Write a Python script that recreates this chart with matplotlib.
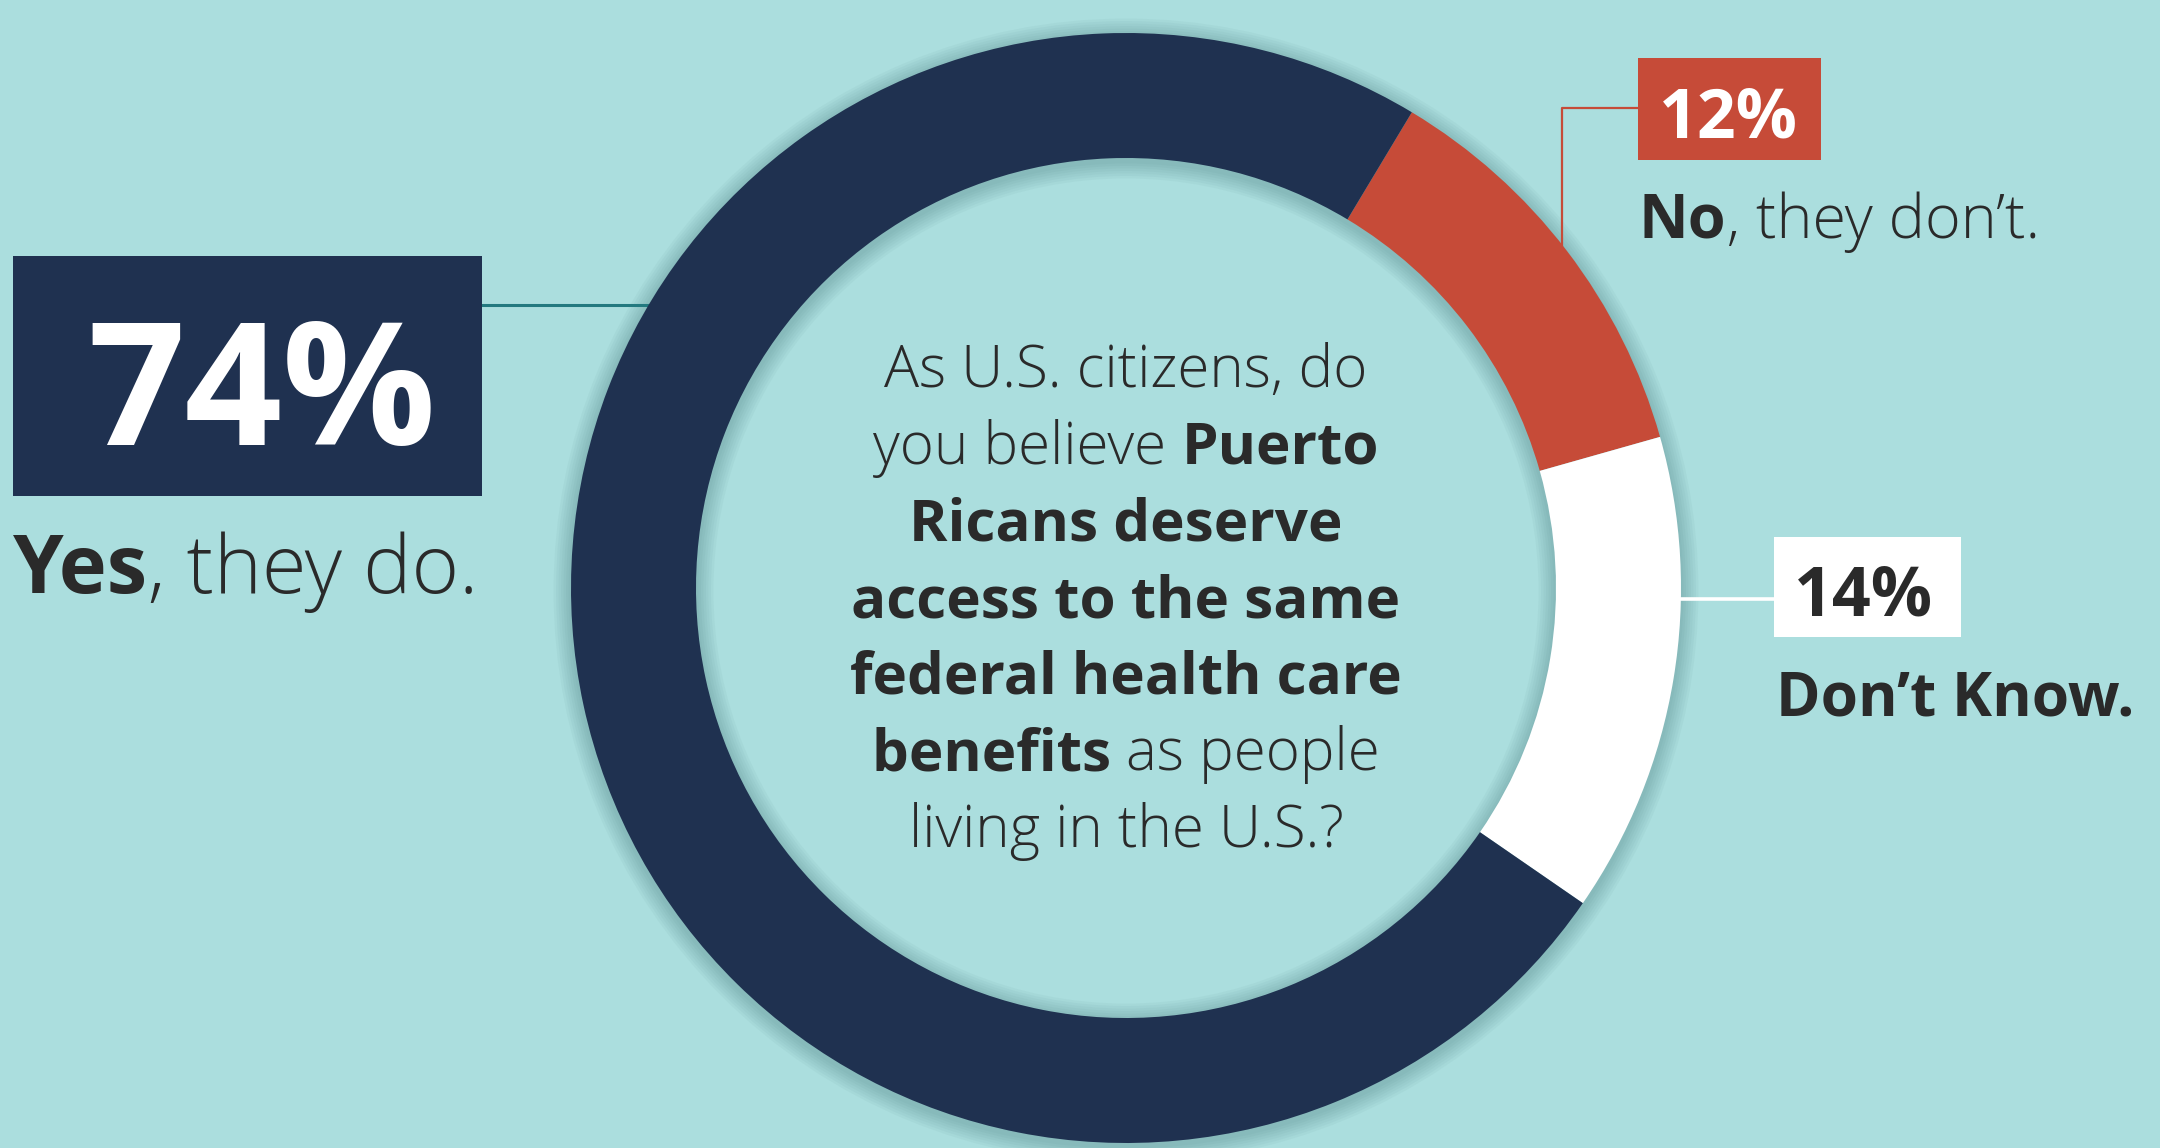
import matplotlib.pyplot as plt
from matplotlib.patches import Rectangle, Wedge

# data
labels = ["No", "Don't Know.", "Yes"]
values = [12, 14, 74]
colors = ["#C64B38", "#FFFFFF", "#1F3150"]
pct_text = [f"{v}%" for v in values]

question = [
    [("As U.S. citizens, do", "light")],
    [("you believe ", "light"), ("Puerto", "bold")],
    [("Ricans deserve", "bold")],
    [("access to the same", "bold")],
    [("federal health care", "bold")],
    [("benefits ", "bold"), ("as people", "light")],
    [("living in the U.S.?", "light")],
]

BG = "#ABDEDE"
DARK = "#2A2A2A"
FONT = "Open Sans"
W, H = 2160, 1148

fig = plt.figure(figsize=(W / 100, H / 100), dpi=100, facecolor=BG)
ax = fig.add_axes([0, 0, 1, 1])
ax.set_facecolor(BG)

cx, cy = 1126, H - 588
R, ring = 555, 125

# soft shadow under the ring
for i in range(1, 8):
    ax.add_patch(Wedge((cx, cy - 3), R + i * 2.5, 0, 360, width=ring + i * 5,
                       facecolor="#2f6366", edgecolor="none", alpha=0.045, zorder=1))

ax.pie(values, colors=colors, startangle=59, counterclock=False,
       radius=R, center=(cx, cy),
       wedgeprops=dict(width=ring, edgecolor="none", zorder=3))

ax.set_xlim(0, W)
ax.set_ylim(0, H)
ax.set_aspect("equal")
ax.axis("off")


def yy(y_img):
    return H - y_img


# leader lines (behind the ring)
ax.plot([482, 700], [yy(305), yy(305)], color="#23797F", lw=2.2, zorder=2)
ax.plot([1638, 1562, 1562], [yy(108), yy(108), yy(275)], color=colors[0], lw=1.6, zorder=2)
ax.plot([1640, 1774], [yy(599), yy(599)], color="white", lw=2.6, zorder=2)

# boxes
ax.add_patch(Rectangle((13, yy(496)), 469, 240, facecolor=colors[2], edgecolor="none", zorder=4))
ax.add_patch(Rectangle((1638, yy(160)), 183, 102, facecolor=colors[0], edgecolor="none", zorder=4))
ax.add_patch(Rectangle((1774, yy(637)), 187, 100, facecolor=colors[1], edgecolor="none", zorder=4))

ax.text(262, yy(445), pct_text[2], fontsize=123, fontweight="bold", color="white",
        family=FONT, ha="center", va="baseline", zorder=5)
ax.text(1728, yy(138), pct_text[0], fontsize=49, fontweight="bold", color="white",
        family=FONT, ha="center", va="baseline", zorder=5)
ax.text(1864, yy(615), pct_text[1], fontsize=49, fontweight="bold", color=DARK,
        family=FONT, ha="center", va="baseline", zorder=5)

fig.canvas.draw()
renderer = fig.canvas.get_renderer()


def width_of(s, size, weight):
    # measure with a guard char so trailing spaces count
    t = ax.text(0, 0, s + "|", fontsize=size, fontweight=weight, family=FONT)
    g = ax.text(0, 0, "|", fontsize=size, fontweight=weight, family=FONT)
    w = t.get_window_extent(renderer).width - g.get_window_extent(renderer).width
    t.remove()
    g.remove()
    return w


def rich(x, y, parts, size, align="left"):
    widths = [width_of(s, size, wt) for s, wt in parts]
    x0 = x - sum(widths) / 2 if align == "center" else x
    for (s, wt), w in zip(parts, widths):
        ax.text(x0, y, s, fontsize=size, fontweight=wt, family=FONT, color=DARK,
                ha="left", va="baseline", zorder=5)
        x0 += w


# labels
rich(13, yy(593), [(labels[2], "bold"), (", they do.", "light")], 58.5)
rich(1639, yy(238), [(labels[0], "bold"), (", they don\u2019t.", "light")], 44)
ax.text(1776, yy(716), labels[1].replace("'", "\u2019"), fontsize=43.5, fontweight="bold",
        color=DARK, family=FONT, ha="left", va="baseline", zorder=5)

# question in the middle
base = 387
for i, line in enumerate(question):
    rich(cx, yy(base + i * 76.7), line, 42, align="center")

fig.savefig("out.png", dpi=100, facecolor=BG)
